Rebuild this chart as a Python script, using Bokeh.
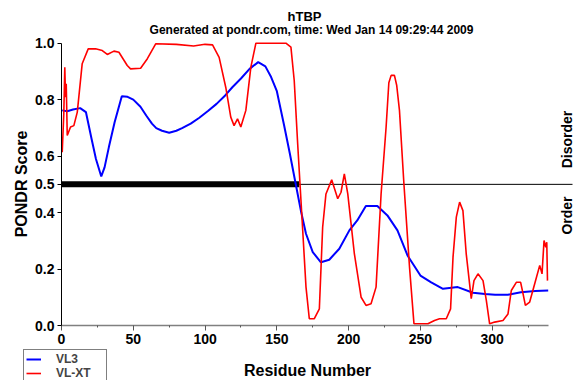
import math
from bokeh.plotting import figure
from bokeh.models import (Range1d, FixedTicker, PrintfTickFormatter, Label,
                          Legend, LegendItem)
from bokeh.embed import file_html
from bokeh.resources import INLINE

# ---- data ----
title_text = "hTBP"
subtitle_text = "Generated at pondr.com, time: Wed Jan 14 09:29:44 2009"

vl3_residue = [0.5, 4, 8, 13, 17, 21, 24, 27.7, 30, 33, 37, 42, 46, 50, 55, 59, 63, 66,
               70, 75, 80, 84, 90, 96, 102, 108, 114, 119, 125, 131, 137, 142, 146, 150,
               155, 159, 163, 167, 170.3, 175, 180.7, 186.5, 193.5, 200.5, 206, 212, 220,
               227, 234, 241, 250, 257.5, 265.7, 276, 286.6, 295, 302, 311, 320, 330, 339]
vl3_score = [0.762, 0.759, 0.765, 0.770, 0.756, 0.66, 0.59, 0.528, 0.56, 0.632, 0.72,
             0.812, 0.81, 0.80, 0.775, 0.744, 0.715, 0.699, 0.69, 0.683, 0.69, 0.699,
             0.715, 0.736, 0.76, 0.785, 0.815, 0.844, 0.875, 0.909, 0.933, 0.918, 0.88,
             0.83, 0.71, 0.61, 0.505, 0.40, 0.325, 0.26, 0.224, 0.233, 0.272, 0.337,
             0.372, 0.423, 0.423, 0.39, 0.337, 0.248, 0.177, 0.153, 0.130, 0.136, 0.116,
             0.112, 0.109, 0.109, 0.118, 0.122, 0.124]

vlxt_residue = [0.5, 1.6, 2.3, 2.8, 3.3, 4.0, 6.3, 8.6, 11, 14.4, 18.6, 23.7, 28.4, 31.9,
                36.5, 40, 45.8, 48.1, 55.1, 59.8, 65.6, 80, 92, 100, 105.2, 109.8, 114.4,
                117.9, 120.2, 122.6, 124.9, 128.4, 131.9, 135.4, 156.3, 159.8, 162.1,
                164.5, 166.8, 170.3, 172.6, 176.1, 179.6, 181.9, 184.2, 188.2, 192.4,
                194.7, 197, 199.4, 204, 208.7, 212.1, 215.6, 219.1, 222.6, 226.1, 228,
                229.6, 231.9, 233.5, 235.4, 238.5, 242.4, 245.5, 255.2, 259.8, 263.3, 268,
                271, 272.7, 275, 277.3, 279.6, 281.9, 285.4, 287.3, 290.1, 293.6, 295.9,
                298.2, 301.7, 307.5, 311, 313.3, 316.8, 319.8, 321.5, 323.1, 326.1, 329.6,
                333.1, 334.7, 336.1, 337.3, 338, 338.5]
vlxt_score = [0.614, 0.75, 0.915, 0.809, 0.856, 0.673, 0.703, 0.708, 0.756, 0.927, 0.980,
              0.980, 0.974, 0.960, 0.972, 0.968, 0.921, 0.909, 0.911, 0.945, 0.998, 0.996,
              0.99, 0.996, 0.994, 0.950, 0.844, 0.738, 0.708, 0.732, 0.703, 0.762, 0.915,
              1.0, 1.0, 0.986, 0.868, 0.644, 0.443, 0.136, 0.024, 0.024, 0.059, 0.348,
              0.466, 0.516, 0.449, 0.472, 0.537, 0.466, 0.254, 0.100, 0.071, 0.077, 0.136,
              0.466, 0.703, 0.86, 0.886, 0.886, 0.85, 0.762, 0.502, 0.207, 0.006, 0.006,
              0.018, 0.024, 0.024, 0.059, 0.242, 0.384, 0.437, 0.407, 0.254, 0.095, 0.159,
              0.183, 0.159, 0.089, 0.006, 0.012, 0.018, 0.041, 0.124, 0.153, 0.153, 0.112,
              0.071, 0.083, 0.148, 0.213, 0.183, 0.301, 0.277, 0.295, 0.159]

threshold = 0.5
disorder_start = 0
disorder_end = 165.6
seq_length = 339

x_ticks = [0, 50, 100, 150, 200, 250, 300]
x_minor_ticks = [25, 75, 125, 175, 225, 275, 325]
y_ticks = [0.0, 0.2, 0.4, 0.5, 0.6, 0.8, 1.0]

FONT = "Liberation Sans"

# ---- layout: the frame covers the whole canvas; axes sit at fixed data locations ----
W, H = 585, 380
X0, SX = 61.0, 1.4357     # pixel of residue 0, pixels per residue
Y0, SY = 325.0, 282.3     # pixel of score 0, pixels per score unit


def to_x(px):
    return (px - X0) / SX


def to_y(py):
    return (Y0 - py) / SY


p = figure(width=W, height=H, output_backend="svg", toolbar_location=None,
           x_range=Range1d(to_x(0), to_x(W)), y_range=Range1d(to_y(H), to_y(0)),
           min_border=0, min_border_left=0, min_border_right=0, min_border_top=0,
           min_border_bottom=0)
p.title.visible = False
p.outline_line_color = None
p.grid.visible = False
p.background_fill_color = "white"
p.border_fill_color = "white"

# axes
xa = p.xaxis[0]
xa.fixed_location = 0
xa.ticker = FixedTicker(ticks=x_ticks, minor_ticks=x_minor_ticks)
xa.bounds = (0, seq_length)
xa.axis_line_color = "#808080"
xa.axis_line_width = 1.5
xa.major_tick_line_color = "#555555"
xa.minor_tick_line_color = "#555555"
xa.major_tick_in = 0
xa.major_tick_out = 5
xa.minor_tick_in = 0
xa.minor_tick_out = 2
xa.major_label_standoff = 3
xa.major_label_text_font = FONT
xa.major_label_text_font_size = "14px"
xa.major_label_text_font_style = "bold"
xa.major_label_text_color = "black"

ya = p.yaxis[0]
ya.fixed_location = 0
ya.ticker = FixedTicker(ticks=y_ticks, minor_ticks=[])
ya.formatter = PrintfTickFormatter(format="%.1f")
ya.bounds = (0, 1)
ya.axis_line_color = "black"
ya.axis_line_width = 1
ya.major_tick_line_color = "black"
ya.major_tick_in = 0
ya.major_tick_out = 4
ya.minor_tick_line_color = None
ya.major_label_standoff = 3
ya.major_label_text_font = FONT
ya.major_label_text_font_size = "14px"
ya.major_label_text_font_style = "bold"
ya.major_label_text_color = "black"

# threshold and disordered-region bar
p.line([disorder_start, to_x(572)], [threshold, threshold], line_color="black",
       line_width=1)
p.line([disorder_start, disorder_end], [threshold, threshold], line_color="black",
       line_width=6)

blue = p.line(vl3_residue, vl3_score, line_color="#0000ff", line_width=2)
red = p.line(vlxt_residue, vlxt_score, line_color="#ff0000", line_width=1.6)


def lab(px, py, text, size, angle=0.0):
    p.add_layout(Label(x=to_x(px), y=to_y(py), text=text, text_font=FONT,
                       text_font_size=size, text_font_style="bold",
                       text_align="center", text_baseline="middle", angle=angle,
                       text_color="black"))


lab(304, 16, title_text, "13px")
lab(311, 29, subtitle_text, "12px")
lab(307, 369.5, "Residue Number", "16px")
lab(21, 183.5, "PONDR Score", "16px", math.pi / 2)
lab(566.7, 139, "Disorder", "14px", math.pi / 2)
lab(566.7, 215, "Order", "14px", math.pi / 2)

legend = Legend(items=[LegendItem(label="VL3", renderers=[blue]),
                       LegendItem(label="VL-XT", renderers=[red])],
                location=(23, -3))
legend.border_line_color = "black"
legend.border_line_width = 1
legend.background_fill_color = "white"
legend.background_fill_alpha = 1
legend.label_text_font = FONT
legend.label_text_font_size = "12px"
legend.label_text_font_style = "bold"
legend.glyph_width = 15
legend.glyph_height = 12
legend.label_height = 12
legend.label_width = 48
legend.label_standoff = 15
legend.padding = 2
legend.spacing = 0
legend.margin = 0
p.add_layout(legend)

open("out.html", "w").write(file_html(p, INLINE))
